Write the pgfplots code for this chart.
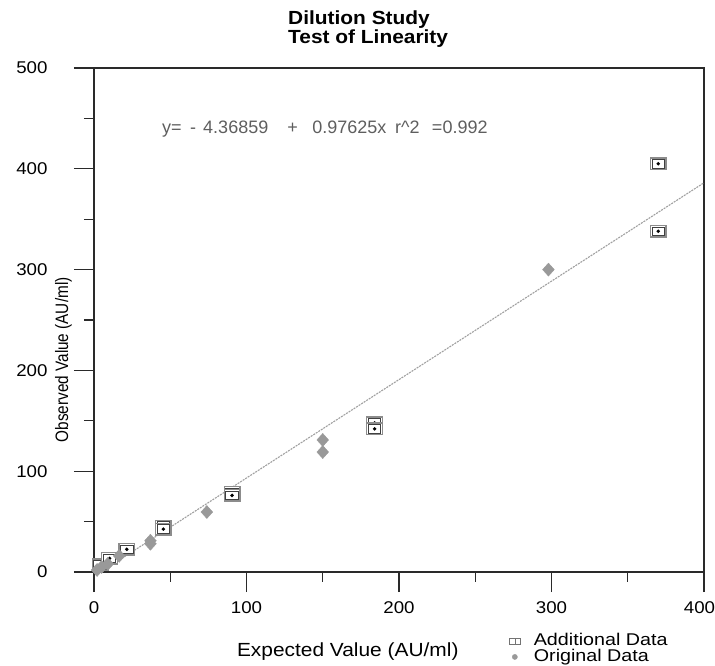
\documentclass[border=0pt]{standalone}
\usepackage{fontspec}
\setmainfont{Liberation Sans}[FakeStretch=1.1]
\newfontfamily\plainsans{Liberation Sans}
\newfontfamily\condsans{Liberation Sans}[FakeStretch=0.85]
\newfontfamily\widesans{Liberation Sans}[FakeStretch=1.16]
\usepackage{pgfplots}
\pgfplotsset{compat=1.18}

\definecolor{axcol}{HTML}{2A2A2A}
\definecolor{eqcol}{HTML}{5E5E5E}
\definecolor{diacol}{HTML}{999999}
\definecolor{fitcol}{HTML}{A0A0A0}

% square with a dot inside (Additional Data)
\pgfdeclareplotmark{sqdot}{%
  \pgfsetlinewidth{1.4pt}\pgfsetstrokecolor{black!45}\pgfsetfillcolor{white}%
  \pgfpathrectangle{\pgfqpoint{-7.8pt}{-5.8pt}}{\pgfqpoint{15.6pt}{11.6pt}}%
  \pgfusepathqfillstroke
  \pgfsetlinewidth{0.9pt}\pgfsetstrokecolor{black!75}%
  \pgfpathrectangle{\pgfqpoint{-6.2pt}{-4.2pt}}{\pgfqpoint{12.4pt}{8.4pt}}%
  \pgfusepathqstroke
  \pgfsetfillcolor{black}%
  \pgfpathcircle{\pgfqpoint{0pt}{0pt}}{1.9pt}%
  \pgfusepathqfill
}

\begin{document}
\begin{tikzpicture}
\useasboundingbox (-94pt,-94pt) rectangle (621pt,572pt);
\begin{axis}[
    at={(0pt,0pt)}, anchor=south west,
    scale only axis,
    width=610pt, height=504pt,
    xmin=0, xmax=400, ymin=0, ymax=500,
    xtick={0,100,...,400}, ytick={0,100,...,500},
    xticklabels={0,100,200,300,\hspace*{-9pt}400},
    minor tick num=1,
    tick pos=left,
    tick align=outside,
    major tick length=20pt, minor tick length=10pt,
    axis line style={axcol, line width=1.3pt},
    every tick/.style={axcol, line width=1.3pt},
    /pgf/number format/assume math mode=true,
    tick label style={font=\fontsize{17}{17}\selectfont},
    xticklabel style={yshift=-6.5pt},
    yticklabel style={xshift=-23pt},
    title={Dilution Study\\Test of Linearity},
    title style={at={(axis description cs:0.318,1.028)}, anchor=south west,
        inner sep=0pt, align=left, font=\fontsize{19}{19}\selectfont\bfseries},
    xlabel={Expected Value (AU/ml)},
    xlabel style={at={(axis description cs:0.416,-0.157)}, anchor=center,
        font=\fontsize{19}{19}\selectfont},
    ylabel={Observed Value (AU/ml)},
    ylabel style={at={(axis description cs:-0.05,0.421)}, anchor=center,
        font=\condsans\fontsize{18}{18}\selectfont},
    legend style={at={(axis description cs:0.68,-0.124)}, anchor=north west,
        draw=none, fill=none, font=\widesans\fontsize{17}{17}\selectfont,
        row sep=2pt, inner sep=0pt,
        nodes={inner sep=0.5pt, text height=10.5pt, text depth=2pt}},
    legend cell align=left,
    clip=true,
]
% least squares fit line
\addplot[fitcol, line width=1.1pt, dash pattern=on 2pt off 1pt, forget plot]
    coordinates {(0,-4.36859) (400,386.13141)};

% Additional Data
\addplot[only marks, mark=sqdot,
    legend image code/.code={
        \draw[black!55, line width=0.7pt, fill=white] (0pt,-3pt) rectangle (11pt,3pt);
        \draw[black!55, line width=0.6pt] (5.5pt,-3pt) -- (5.5pt,3pt);
        \path[draw=none, fill=none] (0pt,-1pt) rectangle (24pt,1pt);}]
    coordinates {
    (4,7) (10.2,13.5) (21.5,22.5)
    (45.5,45.6) (45.5,42.6)
    (90.5,79) (90.5,76)
    (184,148) (184,142)
    (370,405) (370,338)
    };
\addlegendentry{Additional Data}

% Original Data
\addplot[only marks, mark=diamond*, mark size=6.5pt,
    mark options={xscale=1.2, fill=diacol, draw=diacol},
    legend image code/.code={
        \fill[diacol] (5.5pt,0pt) circle (2.6pt);
        \path[draw=none, fill=none] (0pt,-1pt) rectangle (24pt,1pt);}]
    coordinates {
    (2,2) (5,5) (9,8) (16.5,16)
    (37,31) (37,28)
    (74,59.5)
    (150,131) (150,119)
    (298,300)
    };
\addlegendentry{Original Data}

% regression equation
\begin{scope}[every node/.style={anchor=base west, inner sep=0pt, text=eqcol,
        font=\plainsans\fontsize{18}{18}\selectfont}]
\node at (axis cs:44.6,435.5) {y=};
\node at (axis cs:62.9,435.5) {-};
\node at (axis cs:71.5,435.5) {4.36859};
\node at (axis cs:126.6,435.5) {+};
\node at (axis cs:143.0,435.5) {0.97625x};
\node at (axis cs:197.4,435.5) {r\^{}2};
\node at (axis cs:221.5,435.5) {=0.992};
\end{scope}
\end{axis}
\end{tikzpicture}
\end{document}
